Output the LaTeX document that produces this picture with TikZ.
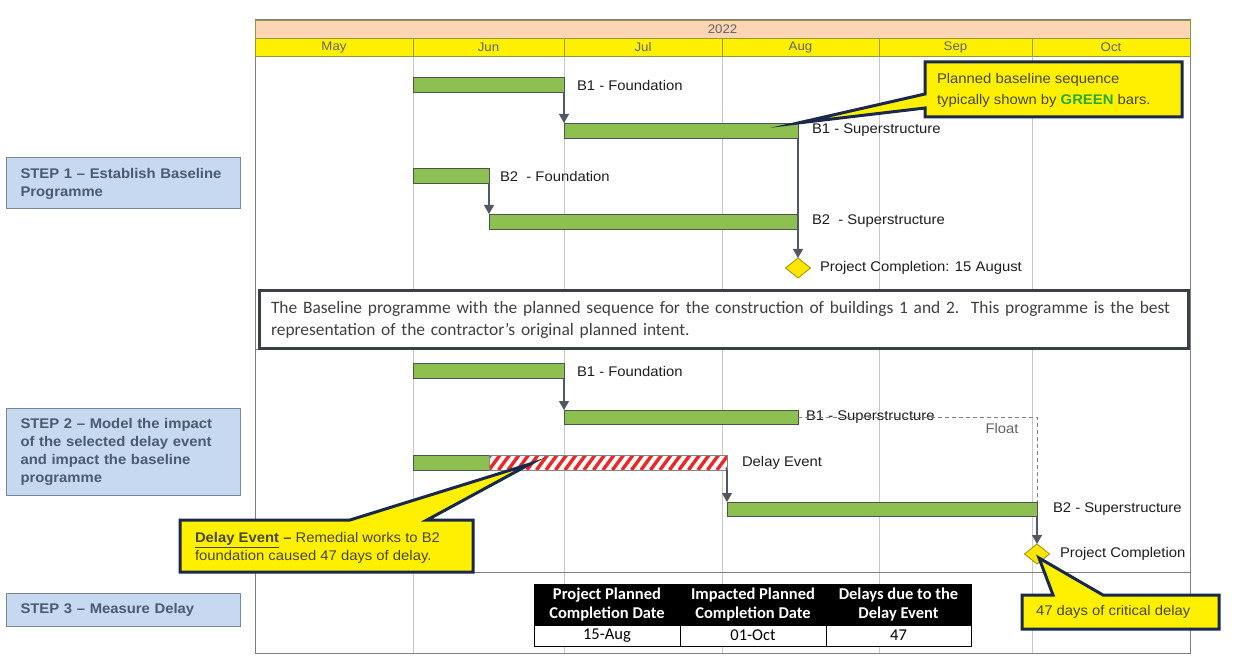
\documentclass[tikz,border=0pt]{standalone}
\usepackage{fontspec}
\setmainfont{Liberation Sans}[FakeStretch=1.06]
\newfontfamily\calfont{Carlito}
\usetikzlibrary{arrows.meta,shapes.geometric}
\definecolor{peach}{RGB}{252,213,181}
\definecolor{hdryellow}{RGB}{255,240,0}
\definecolor{hdrline}{RGB}{150,150,60}
\definecolor{gridgray}{RGB}{200,200,200}
\definecolor{framegray}{RGB}{128,128,128}
\definecolor{bargreen}{RGB}{141,192,80}
\definecolor{barline}{RGB}{75,85,80}
\definecolor{arrowgray}{RGB}{80,88,98}
\definecolor{msyellow}{RGB}{255,230,0}
\definecolor{msline}{RGB}{160,145,0}
\definecolor{callyellow}{RGB}{255,240,0}
\definecolor{callnavy}{RGB}{25,40,75}
\definecolor{stepfill}{RGB}{198,217,241}
\definecolor{stepline}{RGB}{120,135,150}
\definecolor{steptext}{RGB}{75,90,110}
\definecolor{boxline}{RGB}{60,64,70}
\definecolor{bodytext}{RGB}{64,64,64}
\definecolor{calltext}{RGB}{70,70,50}
\definecolor{greentext}{RGB}{40,170,60}
\definecolor{stripered}{RGB}{235,40,40}
\definecolor{labeltext}{RGB}{30,30,30}
\definecolor{monthtext}{RGB}{100,100,100}
\begin{document}
\begin{tikzpicture}[x=1pt,y=-1pt,
  every node/.style={inner sep=0pt,outer sep=0pt},
  bar/.style={draw=barline,fill=bargreen,line width=0.8pt,minimum height=15pt,anchor=north west},
  hatchbar/.style={draw=barline!70,fill=white,line width=0.8pt,minimum height=15pt,anchor=north west,
    path picture={\foreach \k in {-3,...,27}{\draw[stripered,line width=3.4pt] ([xshift=\k*9.5pt]path picture bounding box.south west) -- ++(11pt,15pt);}}},
  lbl/.style={anchor=west,text=labeltext,font=\fontsize{14}{16}\selectfont},
  link/.style={draw=arrowgray,line width=1.3pt,-{Triangle[width=10pt,length=9pt]}},
  milestone/.style={diamond,draw=msline,fill=msyellow,line width=0.8pt,minimum width=25pt,minimum height=20pt},
  stepbox/.style={draw=stepline,fill=stepfill,line width=1pt,anchor=north west,minimum width=234pt,
    text width=205pt,inner xsep=14.5pt,align=left,text=steptext,font=\bfseries\fontsize{14}{18}\selectfont},
  callout/.style={draw=callnavy,fill=callyellow,line width=3pt,line join=miter,miter limit=20},
  calltxt/.style={anchor=west,align=left,text=calltext,font=\fontsize{14}{21}\selectfont},
  month/.style={draw=hdrline,fill=hdryellow,line width=0.8pt,minimum height=18pt,anchor=north west,text=monthtext,font=\fontsize{12.5}{13}\selectfont},
  thead/.style={fill=black,draw=black,line width=0.8pt,minimum height=41pt,anchor=north west,text=white,align=center,font=\calfont\bfseries\fontsize{16.5}{19}\selectfont},
  tcell/.style={fill=white,draw=black,line width=0.8pt,minimum height=21pt,anchor=north west,font=\calfont\fontsize{16.5}{19}\selectfont}
]
\useasboundingbox[fill=white] (0,0) rectangle (1251,663);

% grid
\foreach \gx in {413,564,722,879,1032}{\draw[gridgray,line width=0.9pt] (\gx,56) -- (\gx,653);}
\draw[framegray,line width=1pt] (255,349) -- (1190,349);
\draw[framegray,line width=1pt] (255,572) -- (1190,572);
\draw[framegray,line width=1pt] (255,20) rectangle (1190,653);

% header
\node[draw=hdrline,fill=peach,line width=0.8pt,minimum width=935pt,minimum height=18pt,anchor=north west,text=monthtext,font=\fontsize{12.5}{13}\selectfont] (year) at (255,20) {2022};
\node[month,minimum width=158pt] (may) at (255,38) {May};
\node[month,minimum width=151pt] (jun) at (413,38) {Jun};
\node[month,minimum width=158pt] (jul) at (564,38) {Jul};
\node[month,minimum width=157pt] (aug) at (722,38) {Aug};
\node[month,minimum width=153pt] (sep) at (879,38) {Sep};
\node[month,minimum width=158pt] (oct) at (1032,38) {Oct};

% baseline text box
\node[draw=boxline,fill=white,line width=3pt,anchor=north west,minimum width=922pt,minimum height=57pt,
  text width=905pt,inner xsep=12pt,align=left,text=bodytext,font=\calfont\fontsize{17.4}{22}\selectfont] (note) at (259,291)
  {The Baseline programme with the planned sequence for the construction of buildings 1 and 2.\ \ This programme is the best\\representation of the contractor’s original planned intent.};

% ---------- baseline ----------
\node[bar,minimum width=151pt] (b1f) at (413,77) {};
\node[bar,minimum width=234pt] (b1s) at (564,123) {};
\node[bar,minimum width=76pt] (b2f) at (413,168) {};
\node[bar,minimum width=309pt] (b2s) at (489,214) {};
\node[milestone] (m1) at (798,268) {};
\draw[link] (b1f.south east) -- (b1s.north west);
\draw[link] (b2f.south east) -- (b2s.north west);
\draw[link] (b1s.south east) -- (m1.north);
\node[lbl] (l1) at (577,85) {B1 - Foundation};
\node[lbl] (l2) at (812,130) {B1 - Superstructure};
\node[lbl] (l3) at (500,176) {B2\ \ - Foundation};
\node[lbl] (l4) at (812,221) {B2\ \ - Superstructure};
\node[lbl] (l5) at (820,268) {Project Completion: 15 August};

% ---------- impacted ----------
\node[bar,minimum width=151pt] (c1f) at (413,363) {};
\node[bar,minimum width=234pt,minimum height=14pt] (c1s) at (564,410) {};
\node[bar,minimum width=76pt] (c2f) at (413,455) {};
\node[hatchbar,minimum width=238pt] (delay) at (489,455) {};
\node[bar,minimum width=310pt,minimum height=14pt] (c2s) at (727,502) {};
\node[milestone] (m2) at (1037,554) {};
\draw[link] (c1f.south east) -- (c1s.north west);
\draw[link] (delay.south east) -- (c2s.north west);
\draw[link] (c2s.south east) -- (m2.north);
\node[lbl] (k1) at (577,371) {B1 - Foundation};
\node[lbl] (k2) at (806,417) {B1 - Superstructure};
\coordinate (fl) at (1037,417);
\draw[gray,line width=1pt,dash pattern=on 4pt off 3pt] (c1s.east) -- (fl) -- (fl |- c2s.north);
\node[anchor=center,text=monthtext,font=\fontsize{14}{16}\selectfont] (float) at (1002,428) {Float};
\node[lbl] (k3) at (742,463) {Delay Event};
\node[lbl] (k4) at (1053,509) {B2 - Superstructure};
\node[lbl] (k5) at (1060,554) {Project Completion};

% ---------- callouts ----------
\draw[callout] (925,62) -- (1182,62) -- (1182,117) -- (925,117) -- (925,108) -- (b1s.north east) -- (925,94) -- cycle;
\node[calltxt] (ct1) at (937,90) {Planned baseline sequence\\typically shown by \textcolor{greentext}{\textbf{GREEN}} bars.};

\coordinate (tipD) at (530,464);
\draw[callout] (180,520) -- (350,520) -- (tipD) -- (427,520) -- (473,520) -- (473,572) -- (180,572) -- cycle;
\node[calltxt,font=\fontsize{14}{18}\selectfont] (ct2) at (195,548) {\underline{\textbf{Delay Event}} \textbf{--} Remedial works to B2\\foundation caused 47 days of delay.};

\coordinate (tipC) at (1039,558);
\draw[callout] (1022,595) -- (1053,595) -- (tipC) -- (1103,595) -- (1219,595) -- (1219,629) -- (1022,629) -- cycle;
\node[calltxt] (ct3) at (1036,612) {47 days of critical delay};

% ---------- steps ----------
\node[stepbox,minimum height=51pt] (s1) at (6,158) {STEP 1 -- Establish Baseline\\Programme};
\node[stepbox,minimum height=87pt] (s2) at (6,408) {STEP 2 -- Model the impact\\of the selected delay event\\and impact the baseline\\programme};
\node[stepbox,minimum height=33pt] (s3) at (6,593) {STEP 3 -- Measure Delay};

% ---------- table ----------
\node[thead,minimum width=146pt] (h1) at (534,584) {Project Planned\\Completion Date};
\node[thead,minimum width=146pt] (h2) at (680,584) {Impacted Planned\\Completion Date};
\node[thead,minimum width=145pt] (h3) at (826,584) {Delays due to the\\Delay Event};
\node[tcell,minimum width=146pt] (d1) at (h1.south west) {15-Aug};
\node[tcell,minimum width=146pt] (d2) at (h2.south west) {01-Oct};
\node[tcell,minimum width=145pt] (d3) at (h3.south west) {47};
\end{tikzpicture}
\end{document}
